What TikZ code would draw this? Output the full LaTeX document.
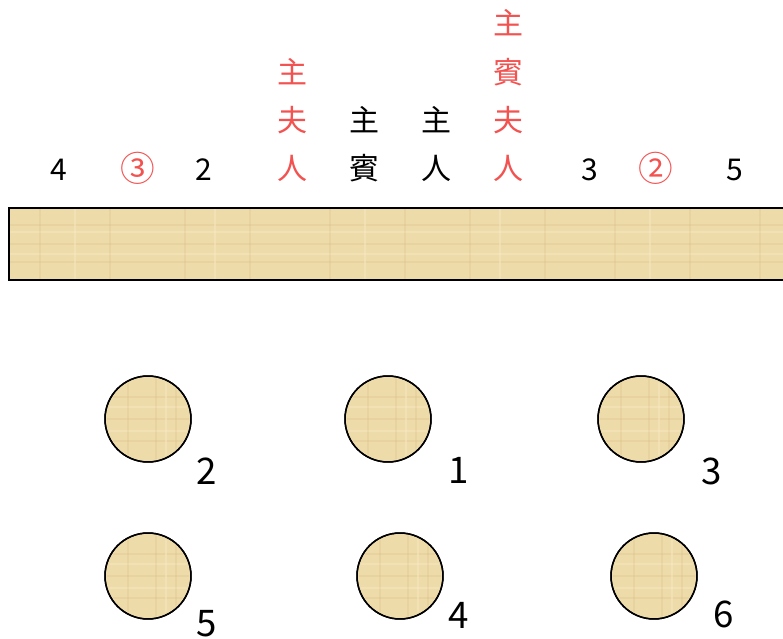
\documentclass[tikz,border=0pt]{standalone}
\usepackage{fontspec}
\setmainfont{Noto Sans CJK JP}
\definecolor{wood}{RGB}{238,219,170}
\definecolor{woodline}{RGB}{205,180,115}
\definecolor{woodlight}{RGB}{248,232,195}
\definecolor{guestred}{RGB}{242,82,80}
\begin{document}
\begin{tikzpicture}[x=0.75pt,y=-0.75pt,
  toplabel/.style={anchor=base,inner sep=0pt,font=\fontsize{22.5pt}{24pt}\selectfont},
  redlabel/.style={toplabel,text=guestred},
  circlabel/.style={anchor=base,inner sep=0pt,text=guestred,font=\fontsize{26pt}{28pt}\selectfont},
  seatnum/.style={anchor=base,inner sep=0pt,font=\fontsize{27.5pt}{30pt}\selectfont},
  seat/.style={circle,draw=black,line width=1.1pt,fill=wood,minimum size=86pt*0.75,inner sep=0pt},
  grain/.style={woodline,opacity=0.18,line width=1.2pt},
  shine/.style={woodlight,opacity=0.5,line width=1.5pt}]
\useasboundingbox (0,0) rectangle (783,639);
\clip (0,0) rectangle (783,639);
% head table
\node[fill=wood,inner sep=0pt,minimum width=800*0.75pt,minimum height=72*0.75pt,anchor=north west] (table) at (9,208) {};
\begin{scope}
\clip (9,208) rectangle (800,280);
\foreach \y in {225,244,262} \draw[grain] (0,\y) -- (800,\y);
\foreach \y in {232,254} \draw[shine] (0,\y) -- (800,\y);
\foreach \x in {40,110,185,250,330,405,470,545,615,690,760} \draw[grain] (\x,208) -- (\x,280);
\foreach \x in {75,215,365,500,650} \draw[shine] (\x,208) -- (\x,280);
\end{scope}
\draw[line width=1.3pt] (9,208) rectangle (800,280);
% top labels
\node[toplabel] (l4) at (59,180) {4};
\node[circlabel] (lc3) at (138,181) {③};
\node[toplabel] (l2) at (204,180) {2};
\node[redlabel] (hw1) at (292,83) {主};
\node[redlabel] (hw2) at (292,131) {夫};
\node[redlabel] (hw3) at (292,179) {人};
\node[toplabel] (g1) at (364,131) {主};
\node[toplabel] (g2) at (364,179) {賓};
\node[toplabel] (h1) at (436,131) {主};
\node[toplabel] (h2) at (436,179) {人};
\node[redlabel] (gw1) at (508,35) {主};
\node[redlabel] (gw2) at (508,83) {賓};
\node[redlabel] (gw3) at (508,131) {夫};
\node[redlabel] (gw4) at (508,179) {人};
\node[toplabel] (l3) at (590,180) {3};
\node[circlabel] (lc2) at (656,181) {②};
\node[toplabel] (l5) at (735,180) {5};
% round tables
\foreach \n/\cx/\cy in {t2/148/419,t1/388/419,t3/641/419,t5/148/576,t4/400/576,t6/654/576}{
  \node[seat] (\n) at (\cx,\cy) {};
  \begin{scope}
    \clip (\cx,\cy) circle (41);
    \foreach \d in {-22,0,22} \draw[grain] (\cx-45,\cy+\d) -- (\cx+45,\cy+\d);
    \foreach \d in {-12,12} \draw[shine] (\cx-45,\cy+\d) -- (\cx+45,\cy+\d);
    \foreach \d in {-20,8,28} \draw[grain] (\cx+\d,\cy-45) -- (\cx+\d,\cy+45);
    \foreach \d in {18} \draw[shine] (\cx+\d,\cy-45) -- (\cx+\d,\cy+45);
  \end{scope}
  \draw[line width=1.1pt] (\cx,\cy) circle (43);
}
\node[seatnum] (n2) at (207,484) {2};
\node[seatnum] (n1) at (459,483) {1};
\node[seatnum] (n3) at (712,484) {3};
\node[seatnum] (n5) at (207,636) {5};
\node[seatnum] (n4) at (459,628) {4};
\node[seatnum] (n6) at (724,627) {6};
\end{tikzpicture}
\end{document}
